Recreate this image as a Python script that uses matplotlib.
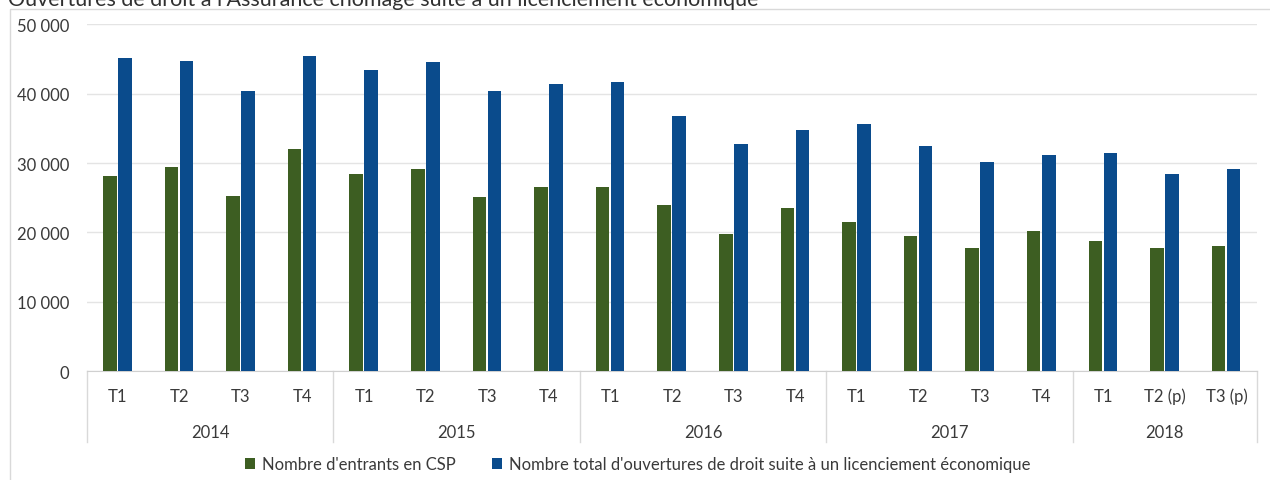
import numpy as np
import matplotlib.pyplot as plt
from matplotlib.transforms import blended_transform_factory
from matplotlib.patches import Rectangle

plt.rcParams['font.family'] = ['Lato', 'DejaVu Sans']

years = ['2014', '2015', '2016', '2017', '2018']
quarters = [['T1', 'T2', 'T3', 'T4'],
            ['T1', 'T2', 'T3', 'T4'],
            ['T1', 'T2', 'T3', 'T4'],
            ['T1', 'T2', 'T3', 'T4'],
            ['T1', 'T2 (p)', 'T3 (p)']]

entrants_csp = [28100, 29400, 25200, 32100,
                28400, 29200, 25100, 26600,
                26500, 23900, 19700, 23500,
                21500, 19500, 17800, 20200,
                18700, 17800, 18000]
ouvertures_total = [45200, 44800, 40400, 45500,
                    43500, 44600, 40400, 41400,
                    41700, 36800, 32800, 34800,
                    35600, 32400, 30100, 31200,
                    31400, 28400, 29100]

title = "Ouvertures de droit à l'Assurance chômage suite à un licenciement économique"
label_csp = "Nombre d'entrants en CSP"
label_total = "Nombre total d'ouvertures de droit suite à un licenciement économique"

green = '#3d5e22'
blue = '#0a4b8c'
grey_txt = '#3a3a3a'
fs = 12

fig = plt.figure(figsize=(12.7, 4.81), dpi=100)
ax = fig.add_axes([0.0685, 0.2266, 0.9215, 0.7204])

x = np.arange(len(entrants_csp))
w = 0.22
ax.bar(x - 0.13, entrants_csp, w, color=green, label=label_csp, zorder=3)
ax.bar(x + 0.115, ouvertures_total, w, color=blue, label=label_total, zorder=3)

ax.set_xlim(-0.5, len(x) - 0.5)
ax.set_ylim(0, 50000)
ax.set_yticks(range(0, 50001, 10000))
ax.set_yticklabels(['0' if v == 0 else f'{v // 1000} 000' for v in range(0, 50001, 10000)])
ax.tick_params(axis='y', length=0, pad=13, labelsize=fs, labelcolor=grey_txt)
ax.set_xticks([])
ax.grid(axis='y', color='#e4e4e4', linewidth=1, zorder=0)
for s in ['top', 'right', 'left']:
    ax.spines[s].set_visible(False)
ax.spines['bottom'].set_color('#d0d0d0')

# two-level category axis: quarters, then years, with separators
tr = blended_transform_factory(ax.transData, ax.transAxes)
pos = 0
ax.plot([-0.5, -0.5], [0, -0.205], transform=tr, color='#d9d9d9', lw=1, clip_on=False)
for yr, qs in zip(years, quarters):
    for i, q in enumerate(qs):
        ax.text(pos + i, -0.072, q, transform=tr, ha='center', va='center',
                fontsize=fs, color=grey_txt)
    mid = pos + (len(qs) - 1) / 2
    ax.text(mid, -0.175, yr, transform=tr, ha='center', va='center',
            fontsize=fs, color=grey_txt)
    pos += len(qs)
    ax.plot([pos - 0.5, pos - 0.5], [0, -0.205], transform=tr, color='#d9d9d9',
            lw=1, clip_on=False)

fig.legend(loc='center', bbox_to_anchor=(0.502, 0.033), ncol=2, frameon=False,
           fontsize=fs, handlelength=0.6, handleheight=0.6, handletextpad=0.4,
           columnspacing=2.2, labelcolor=grey_txt)

# chart area frame, title sits just above it
fig.patches.append(Rectangle((0.008, -0.01), 1.1, 0.989, transform=fig.transFigure,
                             fill=False, edgecolor='#d9d9d9', lw=1))
fig.text(0.006, 0.9875, title, ha='left', va='baseline', fontsize=15.5, color='#303030')

fig.savefig('out.png', dpi=100)
